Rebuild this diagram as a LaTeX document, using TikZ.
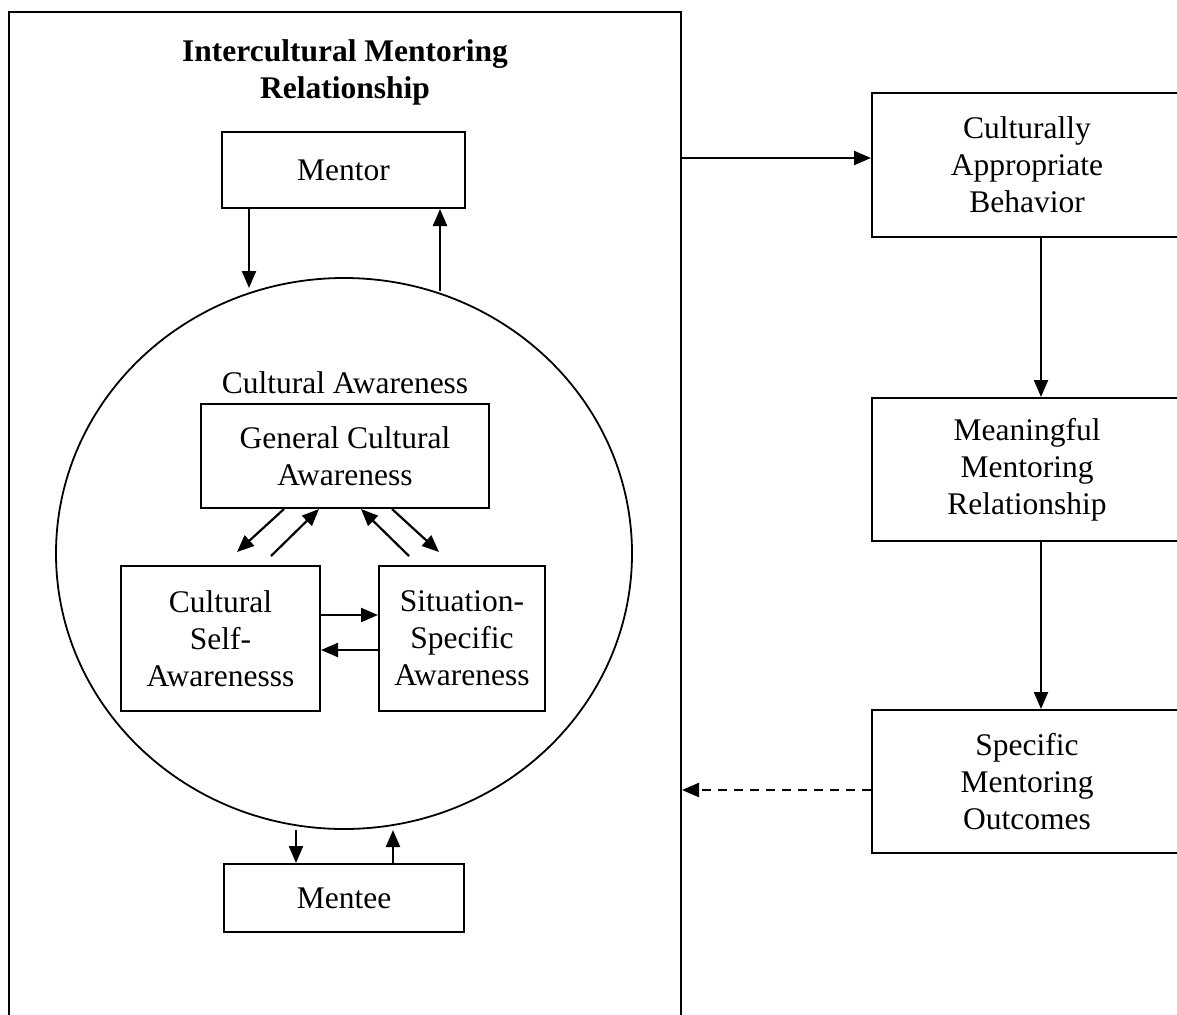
\documentclass[tikz,border=0pt]{standalone}
\usepackage{fontspec}
\setmainfont{Liberation Serif}
\usetikzlibrary{arrows.meta,shapes.geometric,calc}
\begin{document}
\begin{tikzpicture}[x=1pt,y=-1pt,
  txt/.style={font=\fontsize{31.5}{37}\selectfont, align=center, inner sep=0pt},
  box/.style={draw, line width=2pt, txt},
  arr/.style={line width=2.2pt, -{Triangle[length=17pt,width=14pt]}},
  darr/.style={arr, dash pattern=on 9pt off 7pt}]
\useasboundingbox (0,0) rectangle (1177,1014);
\clip (0,0) rectangle (1177,1014);
% big frame
\node[draw, line width=2pt, minimum width=672, minimum height=1020, inner sep=0pt] (big) at (345,522) {};
\node[txt, font=\fontsize{31.5}{37}\selectfont\bfseries] (title) at (345,72) {Intercultural Mentoring\\Relationship};
% mentor / mentee
\node[box, minimum width=243, minimum height=76] (mentor) at (343.5,170) {Mentor};
\node[box, minimum width=240, minimum height=68] (mentee) at (344,898) {Mentee};
% circle
\node[draw, ellipse, line width=1.8pt, minimum width=576, minimum height=551, inner sep=0pt] (ca) at (344,553.5) {};
\node[txt] (calabel) at (345,383) {Cultural Awareness};
\node[box, minimum width=288, minimum height=104] (gca) at (345,456) {General Cultural\\Awareness};
\node[box, minimum width=199, minimum height=145] (csa) at (220.5,638.5) {Cultural\\Self-\\Awarenesss};
\node[box, minimum width=166, minimum height=145] (ssa) at (462,638.5) {Situation-\\Specific\\Awareness};
% right column
\node[box, minimum width=310, minimum height=144] (cab) at (1027,165) {Culturally\\Appropriate\\Behavior};
\node[box, minimum width=310, minimum height=143] (mmr) at (1027,469.5) {Meaningful\\Mentoring\\Relationship};
\node[box, minimum width=310, minimum height=143] (smo) at (1027,781.5) {Specific\\Mentoring\\Outcomes};
% coordinates for connectors
\coordinate (m1) at (249,288);
\coordinate (m2) at (440,291);
\coordinate (e1) at (296,830);
\coordinate (e2) at (393,830);
% mentor arrows
\draw[arr] (mentor.south -| m1) -- (m1);
\draw[arr] (m2) -- (mentor.south -| m2);
% mentee arrows
\draw[arr] (e1) -- (mentee.north -| e1);
\draw[arr] (mentee.north -| e2) -- (e2);
% inner arrows
\draw[arr] ($(gca.south west)+(84,0)$) -- ($(csa.north west)+(117,-13)$);
\draw[arr] ($(csa.north west)+(151,-9)$) -- ($(gca.south west)+(119,0)$);
\draw[arr] ($(ssa.north west)+(31,-9)$) -- ($(gca.south west)+(161,0)$);
\draw[arr] ($(gca.south west)+(192,0)$) -- ($(ssa.north west)+(61,-13)$);
\draw[arr] ($(csa.east)+(0,-23.5)$) -- ($(ssa.west)+(0,-23.5)$);
\draw[arr] ($(ssa.west)+(0,11.5)$) -- ($(csa.east)+(0,11.5)$);
% right connections
\draw[arr] (big.east |- 0,158) -- (cab.west |- 0,158);
\draw[arr] (cab.south -| 1041,0) -- (mmr.north -| 1041,0);
\draw[arr] (mmr.south -| 1041,0) -- (smo.north -| 1041,0);
\draw[darr] (smo.west |- 0,790) -- (big.east |- 0,790);
\end{tikzpicture}
\end{document}
